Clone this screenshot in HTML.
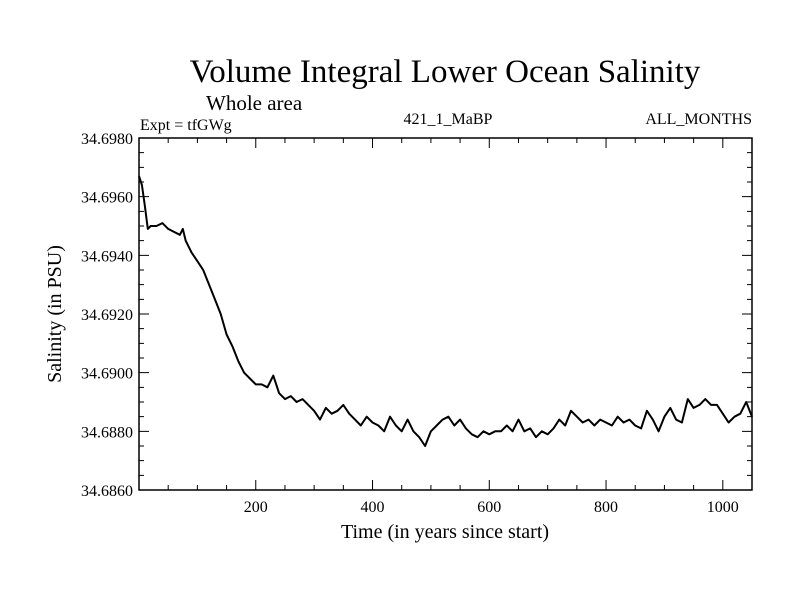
<!DOCTYPE html>
<html><head><meta charset="utf-8"><style>
body{margin:0;background:#fff}
svg text{font-family:"Liberation Serif",serif;fill:#000}
</style></head><body>
<svg width="800" height="600" xmlns="http://www.w3.org/2000/svg">
<text x="445" y="82" font-size="33" text-anchor="middle">Volume Integral Lower Ocean Salinity</text>
<text x="206" y="110" font-size="21">Whole area</text>
<text x="140" y="130" font-size="16">Expt = tfGWg</text>
<text x="448" y="124" font-size="16" text-anchor="middle">421_1_MaBP</text>
<text x="752" y="124" font-size="16" text-anchor="end">ALL_MONTHS</text>
<g id="axes"></g>
<text x="445" y="538" font-size="20" text-anchor="middle">Time (in years since start)</text>
<text transform="translate(61,314) rotate(-90)" font-size="20" text-anchor="middle">Salinity (in PSU)</text>
</svg>
<script>
const years=[0,5,10,15,20,30,40,50,60,70,75,80,90,100,110,120,130,140,150,160,170,180,190,200,210,220,230,240,250,260,270,280,290,300,310,320,330,340,350,360,370,380,390,400,410,420,430,440,450,460,470,480,490,500,510,520,530,540,550,560,570,580,590,600,610,620,630,640,650,660,670,680,690,700,710,720,730,740,750,760,770,780,790,800,810,820,830,840,850,860,870,880,890,900,910,920,930,940,950,960,970,980,990,1000,1010,1020,1030,1040,1050];
const salinity=[34.6967,34.6964,34.6957,34.6949,34.6950,34.6950,34.6951,34.6949,34.6948,34.6947,34.6949,34.6945,34.6941,34.6938,34.6935,34.6930,34.6925,34.6920,34.6913,34.6909,34.6904,34.6900,34.6898,34.6896,34.6896,34.6895,34.6899,34.6893,34.6891,34.6892,34.6890,34.6891,34.6889,34.6887,34.6884,34.6888,34.6886,34.6887,34.6889,34.6886,34.6884,34.6882,34.6885,34.6883,34.6882,34.6880,34.6885,34.6882,34.6880,34.6884,34.6880,34.6878,34.6875,34.6880,34.6882,34.6884,34.6885,34.6882,34.6884,34.6881,34.6879,34.6878,34.6880,34.6879,34.6880,34.6880,34.6882,34.6880,34.6884,34.6880,34.6881,34.6878,34.6880,34.6879,34.6881,34.6884,34.6882,34.6887,34.6885,34.6883,34.6884,34.6882,34.6884,34.6883,34.6882,34.6885,34.6883,34.6884,34.6882,34.6881,34.6887,34.6884,34.6880,34.6885,34.6888,34.6884,34.6883,34.6891,34.6888,34.6889,34.6891,34.6889,34.6889,34.6886,34.6883,34.6885,34.6886,34.6890,34.6885];
const xTicks=[200,400,600,800,1000];
const yTicks=[34.6860,34.6880,34.6900,34.6920,34.6940,34.6960,34.6980];
const L=139,R=752,T=138,B=490,xMin=0,xMax=1050,yMin=34.686,yMax=34.698;
const sx=v=>L+(v-xMin)/(xMax-xMin)*(R-L);
const sy=v=>B-(v-yMin)/(yMax-yMin)*(B-T);
const NS='http://www.w3.org/2000/svg',g=document.getElementById('axes');
function mk(t,a){const e=document.createElementNS(NS,t);for(const k in a)e.setAttribute(k,a[k]);g.appendChild(e);return e;}
const frame=mk('rect',{x:L,y:T,width:R-L,height:B-T,fill:'none',stroke:'#000','stroke-width':1.5});


let d='';
for(let v=50;v<xMax;v+=50){const x=sx(v),len=(v%200===0)?10:5;d+=`M${x},${B}v${-len}M${x},${T}v${len}`;}
for(let i=0;i<=24;i++){const v=yMin+i*0.0005,y=sy(v),len=(i%4===0)?10:5;d+=`M${L},${y}h${len}M${R},${y}h${-len}`;}
const ticks=mk('path',{d:d,stroke:'#000','stroke-width':1,fill:'none'});


xTicks.forEach(v=>{const t=mk('text',{x:sx(v),y:B+22,'font-size':16,'text-anchor':'middle'});t.textContent=v;

});
yTicks.forEach(v=>{const t=mk('text',{x:L-6,y:sy(v)+6,'font-size':16,'text-anchor':'end'});t.textContent=v.toFixed(4);

});
const line=mk('path',{d:years.map((y,i)=>(i?'L':'M')+sx(y).toFixed(1)+','+sy(salinity[i]).toFixed(1)).join(''),fill:'none',stroke:'#000','stroke-width':2,'stroke-linejoin':'round'});


</script>
</body></html>
